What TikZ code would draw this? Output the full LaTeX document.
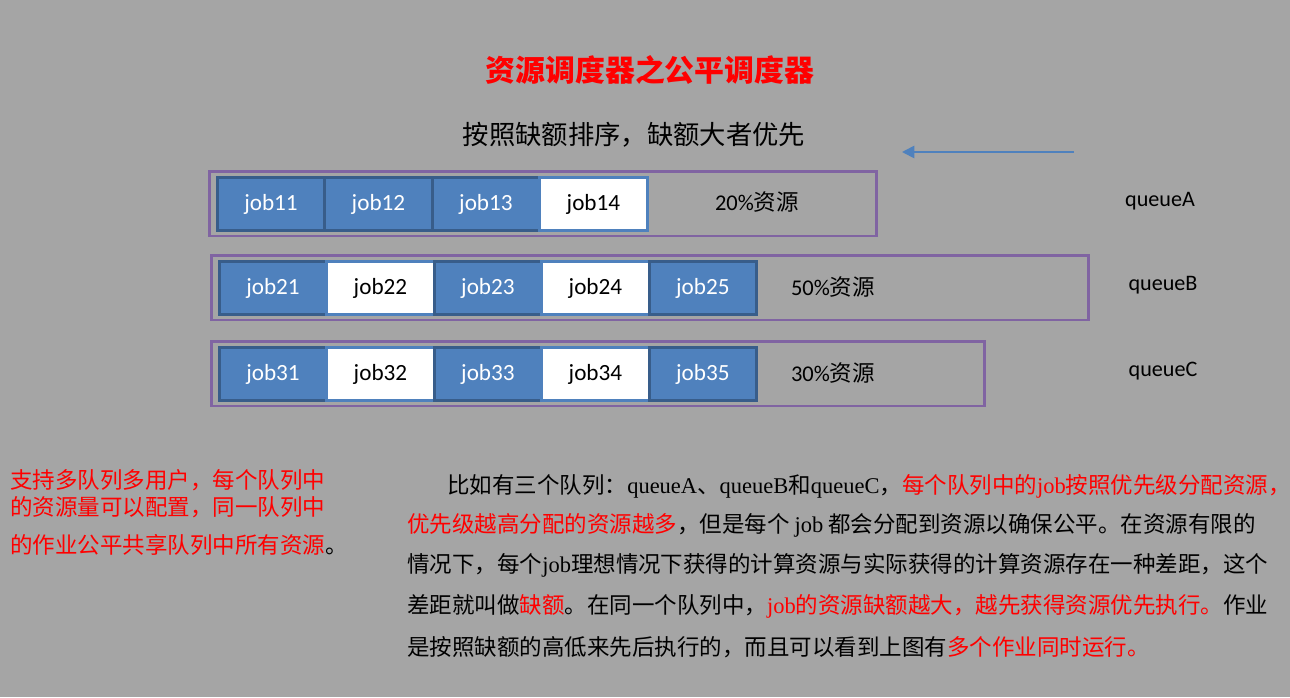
\documentclass[tikz,border=0pt]{standalone}
\usepackage{fontspec}
\setmainfont{Liberation Serif}
\newfontfamily\cjk{Noto Sans CJK SC}
\newfontfamily\calibri{Carlito}
\usepackage{tikz}
\usetikzlibrary{positioning,arrows.meta}
\definecolor{bgray}{HTML}{A5A5A5}
\definecolor{jobblue}{HTML}{4F81BD}
\definecolor{jobedge}{HTML}{385D8A}
\definecolor{qpurple}{HTML}{8064A2}
\newcommand{\lat}[1]{{\rmfamily #1}}
\newcommand{\hl}[1]{\textcolor{red}{#1}}

\begin{document}
\begin{tikzpicture}[
    x=0.02cm, y=-0.02cm,
    job/.style={rectangle, draw=jobedge, fill=jobblue, line width=1.6pt, minimum width=2.15cm, minimum height=1.06cm, outer sep=0pt, inner sep=0pt, text=white, font=\calibri\fontsize{13.2}{15}\selectfont},
    idle/.style={job, draw=jobblue, fill=white, text=black},
    queue/.style={rectangle, draw=qpurple, line width=1.7pt, minimum height=1.3cm, inner sep=0pt},
    share/.style={font=\calibri\fontsize{12.8}{14}\selectfont},
    qname/.style={font=\calibri\fontsize{12.6}{14}\selectfont},
    para/.style={anchor=west, inner sep=0pt, font=\cjk\fontsize{12.8}{15}\selectfont},
    arrow/.style={-{Triangle[length=7pt,width=7pt]}, draw=jobblue, line width=1pt}
]
\useasboundingbox[fill=bgray] (0,0) rectangle (1290,697);

% title
\node[text=red, font=\cjk\bfseries\fontsize{17}{20}\selectfont] (title) at (650,70) {资源调度器之公平调度器};
\node[font=\cjk\fontsize{15}{18}\selectfont] (order) at (634,135) {按照缺额排序，缺额大者优先};
\coordinate (arrS) at (1074,152);
\coordinate (arrE) at (902,152);
\draw[arrow] (arrS) -- (arrE);

% queues
\node[queue, minimum width=13.36cm] (qA) at (543,203.5) {};
\node[queue, minimum width=17.56cm] (qB) at (650,287.5) {};
\node[queue, minimum width=15.48cm] (qC) at (598,373.5) {};

\node[job] (j11) at (271,204) {job11};
\node[job, right=0pt of j11] (j12) {job12};
\node[job, right=0pt of j12] (j13) {job13};
\node[idle, right=0pt of j13] (j14) {job14};
\node[share] (sA) at (757,202) {20\%{\cjk 资源}};
\node[qname] (nA) at (1160,201) {queueA};

\node[job] (j21) at (273,288) {job21};
\node[idle, right=0pt of j21] (j22) {job22};
\node[job, right=0pt of j22] (j23) {job23};
\node[idle, right=0pt of j23] (j24) {job24};
\node[job, right=0pt of j24] (j25) {job25};
\node[share] (sB) at (833,287) {50\%{\cjk 资源}};
\node[qname] (nB) at (1163,285) {queueB};

\node[job] (j31) at (273,374) {job31};
\node[idle, right=0pt of j31] (j32) {job32};
\node[job, right=0pt of j32] (j33) {job33};
\node[idle, right=0pt of j33] (j34) {job34};
\node[job, right=0pt of j34] (j35) {job35};
\node[share] (sC) at (833,373) {30\%{\cjk 资源}};
\node[qname] (nC) at (1163,371) {queueC};

% notes
\node[para, text=red] (l1) at (10,480) {支持多队列多用户，每个队列中};
\node[para, text=red] (l2) at (10,507) {的资源量可以配置，同一队列中};
\node[para, text=red] (l3) at (10,545) {的作业公平共享队列中所有资源\textcolor{black}{。}};

\node[para] (p1) at (447,486) {比如有三个队列：\lat{queueA}、\lat{queueB}和\lat{queueC}，\hl{每个队列中的\lat{job}按照优先级分配资源，}};
\node[para] (p2) at (407,525) {\hl{优先级越高分配的资源越多}，但是每个\ \lat{job}\ 都会分配到资源以确保公平。在资源有限的};
\node[para] (p3) at (407,565) {情况下，每个\lat{job}理想情况下获得的计算资源与实际获得的计算资源存在一种差距，这个};
\node[para] (p4) at (407,606) {差距就叫做\hl{缺额}。在同一个队列中，\hl{\lat{job}的资源缺额越大，越先获得资源优先执行。}作业};
\node[para] (p5) at (407,647) {是按照缺额的高低来先后执行的，而且可以看到上图有\hl{多个作业同时运行。}};
\end{tikzpicture}
\end{document}
